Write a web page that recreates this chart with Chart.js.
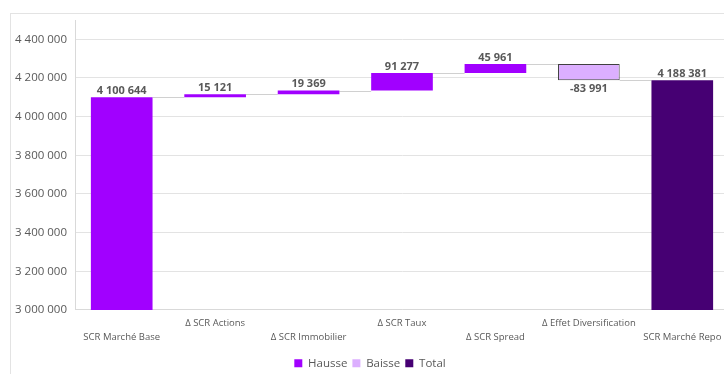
<!DOCTYPE html>
<html>
<head>
<meta charset="utf-8">
<script src="https://cdn.jsdelivr.net/npm/chart.js@4/dist/chart.umd.min.js"></script>
<style>
  html, body { margin: 0; padding: 0; background: #fff; overflow: hidden; width: 724px; height: 374px; }
  #frame {
    position: absolute; left: 10px; top: 13px;
    width: 725px; height: 361px;
    border-left: 1px solid #e3e3e3; border-top: 1px solid #e3e3e3;
  }
  #wrap { position: absolute; left: 0; top: 0; width: 725px; height: 365px; }
</style>
</head>
<body>
<div id="frame"><div id="wrap"><canvas id="waterfall"></canvas></div></div>
<script>
// Waterfall: SCR marché, base -> repo
const categories = [
  'SCR Marché Base', 'Δ SCR Actions', 'Δ SCR Immobilier', 'Δ SCR Taux',
  'Δ SCR Spread', 'Δ Effet Diversification', 'SCR Marché Repo'
];
const steps = [4100644, 15121, 19369, 91277, 45961, -83991];
const totalValue = 4188381;
const yTicks = [3000000, 3200000, 3400000, 3600000, 3800000, 4000000, 4200000, 4400000];

const COLORS = { up: '#A100FF', down: '#DCAFFF', total: '#460073', text: '#595959', grid: '#e3e3e3' };

// floating ranges for each bar
const upData = [], downData = [], totalData = [], labelValues = [], levels = [];
let running = 0;
steps.forEach(s => {
  const start = running, end = running + s;
  upData.push(s >= 0 ? [start, end] : null);
  downData.push(s < 0 ? [start, end] : null);
  totalData.push(null);
  labelValues.push(s);
  levels.push(end);
  running = end;
});
upData.push(null); downData.push(null); totalData.push([0, totalValue]);
labelValues.push(totalValue);

const fmt = v => Math.round(v).toString().replace(/\B(?=(\d{3})+(?!\d))/g, ' ');

function barAt(chart, i) {
  for (let d = 0; d < chart.data.datasets.length; d++) {
    if (chart.data.datasets[d].data[i]) return chart.getDatasetMeta(d).data[i];
  }
  return null;
}

// thin connectors between consecutive bars
const connectors = {
  id: 'connectors',
  beforeDatasetsDraw(chart) {
    const ctx = chart.ctx, y = chart.scales.y;
    ctx.save();
    ctx.strokeStyle = '#d0d0d0';
    ctx.lineWidth = 1;
    for (let i = 0; i < categories.length - 1; i++) {
      const a = barAt(chart, i), b = barAt(chart, i + 1);
      const py = Math.round(y.getPixelForValue(levels[i])) + 0.5;
      ctx.beginPath();
      ctx.moveTo(a.x + a.width / 2, py);
      ctx.lineTo(b.x - b.width / 2, py);
      ctx.stroke();
    }
    ctx.restore();
  }
};

// value labels above rises / below falls
const valueLabels = {
  id: 'valueLabels',
  afterDatasetsDraw(chart) {
    const ctx = chart.ctx;
    ctx.save();
    ctx.font = 'bold 11px "Open Sans"';
    ctx.fillStyle = COLORS.text;
    ctx.textAlign = 'center';
    for (let i = 0; i < categories.length; i++) {
      const el = barAt(chart, i);
      const v = labelValues[i];
      if (v >= 0) {
        ctx.textBaseline = 'bottom';
        ctx.fillText(fmt(v), el.x, Math.min(el.y, el.base) - 1);
      } else {
        ctx.textBaseline = 'top';
        ctx.fillText('-' + fmt(-v), el.x, Math.max(el.y, el.base) + 3);
      }
    }
    ctx.restore();
  }
};

const common = { grouped: false, barPercentage: 1, categoryPercentage: 0.66 };

new Chart(document.getElementById('waterfall').getContext('2d'), {
  type: 'bar',
  data: {
    labels: categories,
    datasets: [
      { label: 'Hausse', data: upData, backgroundColor: COLORS.up, borderWidth: 0, ...common },
      { label: 'Baisse', data: downData, backgroundColor: COLORS.down, borderColor: '#404040', borderWidth: 1, borderSkipped: false, ...common },
      { label: 'Total', data: totalData, backgroundColor: COLORS.total, borderWidth: 0, ...common }
    ]
  },
  options: {
    responsive: true,
    maintainAspectRatio: false,
    animation: false,
    layout: { padding: { left: 0, right: 7, top: 6, bottom: 0 } },
    scales: {
      x: {
        grid: { display: false, drawTicks: false },
        border: { color: '#d9d9d9' },
        afterFit: s => { s.height += 2; },
        ticks: {
          autoSkip: false, maxRotation: 0, minRotation: 0, padding: 7,
          color: COLORS.text,
          font: { family: '"Open Sans"', size: 9.5, lineHeight: 1.4 },
          callback: (v, i) => i % 2 === 0 ? ['', categories[i]] : [categories[i], '']
        }
      },
      y: {
        min: 3000000,
        max: 4500000,
        afterBuildTicks: s => { s.ticks = yTicks.map(v => ({ value: v })); },
        afterFit: s => { s.width = 64; s.paddingTop = 0; s.paddingBottom = 0; },
        grid: { color: COLORS.grid, drawTicks: false },
        border: { color: '#d9d9d9' },
        ticks: {
          padding: 8, color: COLORS.text,
          font: { family: '"Open Sans"', size: 11.5 },
          callback: v => fmt(v)
        }
      }
    },
    plugins: {
      legend: {
        position: 'bottom',
        labels: {
          boxWidth: 8, boxHeight: 8, padding: 5,
          color: COLORS.text,
          font: { family: '"Open Sans"', size: 11.5 },
          generateLabels: chart => Chart.defaults.plugins.legend.labels.generateLabels(chart)
            .map(l => ({ ...l, lineWidth: 0, strokeStyle: l.fillStyle }))
        }
      },
      tooltip: { enabled: false }
    }
  },
  plugins: [connectors, valueLabels]
});
</script>
</body>
</html>
